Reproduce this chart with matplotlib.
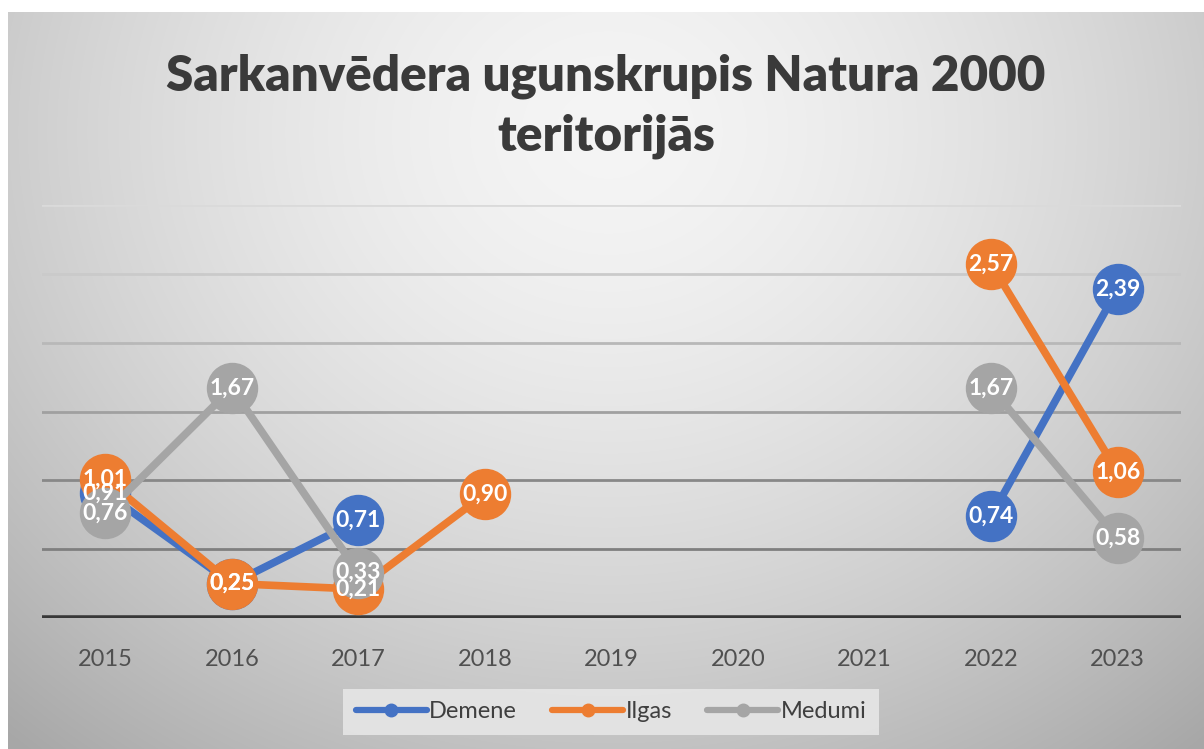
import numpy as np
import matplotlib
matplotlib.use("Agg")
import matplotlib.pyplot as plt
from matplotlib.lines import Line2D

# data
years = ["2015", "2016", "2017", "2018", "2019", "2020", "2021", "2022", "2023"]
demene = [0.91, 0.25, 0.71, np.nan, np.nan, np.nan, np.nan, 0.74, 2.39]
ilgas = [1.01, 0.25, 0.21, 0.90, np.nan, np.nan, np.nan, 2.57, 1.06]
medumi = [0.76, 1.67, 0.33, np.nan, np.nan, np.nan, np.nan, 1.67, 0.58]
series_names = ["Demene", "Ilgas", "Medumi"]
title = "Sarkanvēdera ugunskrupis Natura 2000\nteritorijās"

colors = ["#4472C4", "#ED7D31", "#A5A5A5"]
grid_vals = [0.5, 1.0, 1.5, 2.0, 2.5, 3.0]
grid_cols = ["#7f7f7f", "#888888", "#a0a0a0", "#b8b8b8", "#cacaca", "#dadada"]

plt.rcParams['font.family'] = ['Lato', 'DejaVu Sans']

W, H = 1204, 749
fig = plt.figure(figsize=(W / 100, H / 100), dpi=100)
fig.patch.set_facecolor("white")

# gradient background of the chart area
bg = fig.add_axes([8 / W, 0, (W - 8) / W, (H - 12) / H], zorder=-10)
yy, xx = np.mgrid[0:737, 0:1196]
r = np.sqrt(((xx - 600) / 700.0) ** 2 + ((yy - 120) / 620.0) ** 2)
shade = 0.96 - 0.20 * np.clip(r, 0, 1.3) ** 1.6
bg.imshow(np.dstack([shade] * 3), aspect="auto", extent=[0, 1, 0, 1], interpolation="bilinear")
bg.set_axis_off()

ax = fig.add_axes([42 / W, (H - 618) / H, (1181 - 42) / W, (618 - 205) / H])
ax.patch.set_alpha(0)
x = np.arange(len(years))

for gv, gc in zip(grid_vals, grid_cols):
    ax.axhline(gv, color=gc, lw=2, zorder=1)
ax.axhline(0, color="#383838", lw=4, zorder=2)

handles = []
for i, (name, vals) in enumerate(zip(series_names, [demene, ilgas, medumi])):
    ax.plot(x, vals, color=colors[i], lw=5.5, marker="o", ms=36,
            solid_capstyle="round", zorder=3 + i)
    handles.append(Line2D([], [], color=colors[i], lw=4.5, marker="o", ms=9,
                          solid_capstyle="round"))

for vals in [demene, ilgas, medumi]:
    for xi, v in zip(x, vals):
        if np.isnan(v):
            continue
        ax.text(xi, v, f"{v:.2f}".replace(".", ","), ha="center", va="center",
                color="white", fontsize=16.5, fontweight="bold", zorder=10)

ax.set_xlim(-0.5, len(years) - 0.5)
ax.set_ylim(0, 3.0)
ax.set_yticks([])
ax.set_xticks(x)
ax.set_xticklabels(years, fontsize=17, color="#505050")
ax.tick_params(axis="x", length=0, pad=22)
for s in ax.spines.values():
    s.set_visible(False)

fig.text(606 / W, 1 - 106 / H, title, ha="center", va="center", fontsize=35.5,
         fontweight="heavy", color="#3a3a3a", linespacing=1.38)

leg = ax.legend(handles, series_names, loc="center", ncol=3,
                bbox_to_anchor=(611 / W, (H - 712) / H), bbox_transform=fig.transFigure,
                fontsize=17, frameon=True, fancybox=False, handlelength=3.0,
                handletextpad=0.1, columnspacing=1.5, borderpad=0.55)
leg.get_frame().set_facecolor("#e6e6e6")
leg.get_frame().set_edgecolor("none")
leg.get_frame().set_alpha(0.9)
for t in leg.get_texts():
    t.set_color("#3f3f3f")

fig.savefig("out.png", dpi=100)
